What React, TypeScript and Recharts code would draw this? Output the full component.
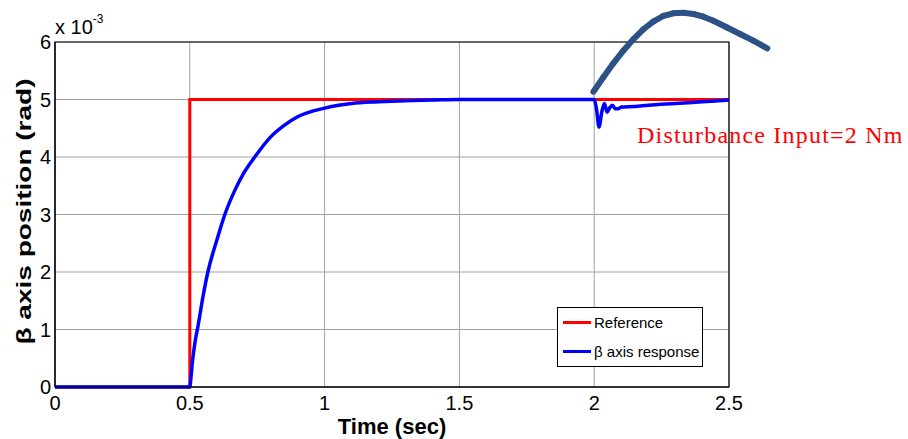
import React from "react";
import {
  LineChart,
  Line,
  XAxis,
  YAxis,
  CartesianGrid,
  Legend,
  ReferenceArea,
  ReferenceLine,
} from "recharts";

// reference step input (x 10^-3 rad)
const refTime = [0, 0.5, 0.5, 2.5];
const refValue = [0, 0, 5, 5];

// beta axis response
const respTime = [
  0, 0.5, 0.505, 0.51, 0.52, 0.53, 0.55, 0.567, 0.6, 0.63, 0.67, 0.7, 0.741,
  0.8, 0.85, 0.9, 1.0, 1.1, 1.2, 1.3, 1.4, 1.5, 2.0, 2.008, 2.018, 2.028,
  2.038, 2.048, 2.058, 2.068, 2.078, 2.09, 2.1, 2.15, 2.2, 2.3, 2.4, 2.5,
];
const respValue = [
  0, 0, 0.2, 0.45, 0.8, 1.05, 1.6, 2.0, 2.55, 3.0, 3.45, 3.72, 4.0, 4.35,
  4.55, 4.7, 4.85, 4.93, 4.96, 4.98, 4.99, 5.0, 5.0, 4.85, 4.52, 4.78, 4.93,
  4.78, 4.86, 4.9, 4.84, 4.84, 4.87, 4.88, 4.9, 4.93, 4.96, 4.99,
];

// hand-drawn arc marking the disturbance
const arcTime = [
  1.997, 2.034, 2.071, 2.108, 2.145, 2.182, 2.219, 2.256, 2.293, 2.331, 2.368,
  2.405, 2.442, 2.491, 2.541, 2.59, 2.642,
];
const arcValue = [
  5.136, 5.386, 5.629, 5.849, 6.047, 6.221, 6.353, 6.452, 6.499, 6.51, 6.487,
  6.44, 6.37, 6.256, 6.139, 6.023, 5.89,
];

const xTicks = [0, 0.5, 1, 1.5, 2, 2.5];
const yTicks = [0, 1, 2, 3, 4, 5, 6];

const refData = refTime.map((t, i) => ({ t, v: refValue[i] }));
const respData = respTime.map((t, i) => ({ t, v: respValue[i] }));

const FONT = '"Liberation Sans", Arial, sans-serif';

const renderLegend = (props: any) => {
  const { payload } = props;
  return (
    <div
      style={{
        width: 146,
        height: 60,
        boxSizing: "border-box",
        border: "1px solid #000",
        background: "#fff",
        fontFamily: FONT,
        fontSize: 15,
        color: "#000",
      }}
    >
      {(payload || []).map((entry: any) => (
        <div
          key={entry.value}
          style={{ height: 29, display: "flex", alignItems: "center" }}
        >
          <div
            style={{
              width: 28,
              height: 3,
              marginLeft: 5,
              marginRight: 3,
              background: entry.color,
            }}
          />
          <span>{entry.value}</span>
        </div>
      ))}
    </div>
  );
};

const YLabel = (props: any) => {
  const vb = props.viewBox || { x: 0, y: 42, width: 55, height: 345 };
  const cx = vb.x + 24;
  const cy = vb.y + vb.height / 2 - 3;
  return (
    <text
      x={cx}
      y={cy}
      transform={`rotate(-90, ${cx}, ${cy})`}
      textAnchor="middle"
      dominantBaseline="central"
      fontFamily={FONT}
      fontWeight="bold"
      fontSize={20}
      textLength={266}
      lengthAdjust="spacingAndGlyphs"
      fill="#000"
    >
      β axis position (rad)
    </text>
  );
};

export default function App() {
  return (
    <div
      style={{
        position: "absolute",
        left: 0,
        top: 0,
        width: 908,
        height: 439,
        background: "#fff",
      }}
    >
      <LineChart
        width={908}
        height={439}
        margin={{ top: 42, right: 179, bottom: 0, left: 0 }}
      >
        <CartesianGrid stroke="#a0a0a0" strokeWidth={1} />
        <XAxis
          type="number"
          dataKey="t"
          domain={[0, 2.5]}
          ticks={xTicks}
          allowDuplicatedCategory={false}
          height={52}
          tickSize={0}
          tickMargin={9}
          stroke="#000"
          tick={{ fill: "#000", fontSize: 20, fontFamily: FONT }}
          label={{
            value: "Time (sec)",
            position: "insideBottom",
            offset: 5,
            style: {
              fontFamily: FONT,
              fontWeight: "bold",
              fontSize: 22,
              fill: "#000",
            },
          }}
        />
        <YAxis
          type="number"
          domain={[0, 6]}
          ticks={yTicks}
          width={55}
          tickSize={0}
          tickMargin={4}
          stroke="#000"
          tick={{ fill: "#000", fontSize: 20, fontFamily: FONT }}
          label={<YLabel />}
        />
        <ReferenceArea
          x1={0}
          x2={2.5}
          y1={0}
          y2={6}
          fill="none"
          stroke="#000"
          strokeWidth={1.2}
          ifOverflow="visible"
        />
        <Legend
          layout="vertical"
          align="center"
          verticalAlign="middle"
          content={renderLegend}
          wrapperStyle={{ position: "absolute", left: 557, top: 307, width: 146, height: 60 }}
        />
        <Line
          data={refData}
          dataKey="v"
          name="Reference"
          type="linear"
          stroke="#ff0000"
          strokeWidth={3}
          dot={false}
          isAnimationActive={false}
        />
        <Line
          data={respData}
          dataKey="v"
          name="β axis response"
          type="monotone"
          stroke="#0000ff"
          strokeWidth={3.5}
          dot={false}
          isAnimationActive={false}
        />
        {arcTime.slice(1).map((t, i) => (
          <ReferenceLine
            key={`arc${i}`}
            segment={[
              { x: arcTime[i], y: arcValue[i] },
              { x: t, y: arcValue[i + 1] },
            ]}
            ifOverflow="visible"
            stroke="#2b5185"
            strokeWidth={6}
            strokeLinecap="round"
          />
        ))}
      </LineChart>
      <div
        style={{
          position: "absolute",
          left: 55,
          top: 17,
          fontFamily: FONT,
          fontSize: 20,
          color: "#000",
          whiteSpace: "nowrap",
          lineHeight: "20px",
        }}
      >
        x 10
        <span style={{ fontSize: 12, position: "relative", top: -11 }}>-3</span>
      </div>
      <div
        style={{
          position: "absolute",
          left: 637,
          top: 121,
          fontFamily: '"Liberation Serif", "Times New Roman", serif',
          fontSize: 24,
          letterSpacing: 1.2,
          color: "#ff0000",
          whiteSpace: "nowrap",
          lineHeight: "28px",
        }}
      >
        Disturbance Input=2 Nm
      </div>
    </div>
  );
}
